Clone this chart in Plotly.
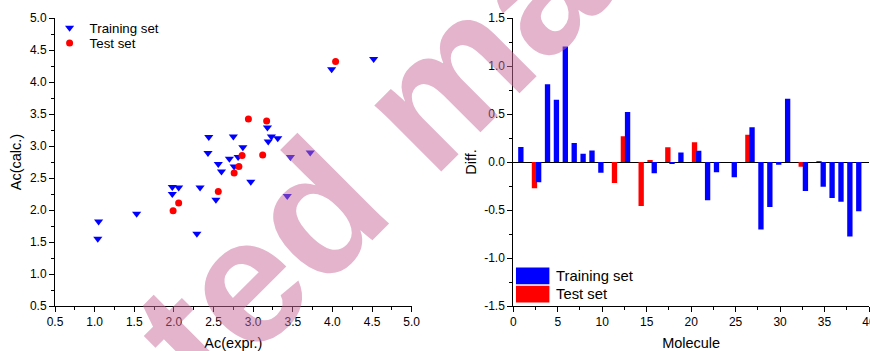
import plotly.graph_objects as go

# ---------------- Left panel: Ac(calc.) vs Ac(expr.) ----------------
train_expr = [1.04, 1.05, 1.53, 1.98, 1.98, 2.06, 2.29, 2.33, 2.43, 2.44, 2.53, 2.56, 2.60, 2.70,
              2.75, 2.76, 2.81, 2.87, 2.97, 3.18, 3.19, 3.23, 3.31, 3.43, 3.47, 3.72, 3.99, 4.52]
train_calc = [1.55, 1.82, 1.94, 2.36, 2.25, 2.35, 1.63, 2.35, 2.89, 3.14, 2.16, 2.72, 2.60, 2.80,
              3.15, 2.68, 2.83, 2.98, 2.44, 3.29, 3.07, 3.15, 3.12, 2.22, 2.83, 2.90, 4.20, 4.36]
test_expr = [1.99, 2.06, 2.56, 2.76, 2.82, 2.86, 2.94, 3.12, 3.17, 4.04]
test_calc = [1.99, 2.11, 2.29, 2.58, 2.68, 2.85, 3.42, 2.86, 3.39, 4.32]

left_ticks = [0.5, 1.0, 1.5, 2.0, 2.5, 3.0, 3.5, 4.0, 4.5, 5.0]
left_ticktext = ["0.5", "1.0", "1.5", "2.0", "2.5", "3.0", "3.5", "4.0", "4.5", "5.0"]

# ---------------- Right panel: Diff. per molecule ----------------
molecule = list(range(1, 40))
train_diff = [0.156, None, -0.212, 0.811, 0.648, 1.203, 0.198, 0.087, 0.121, -0.111,
              None, None, 0.52, None, None, -0.118, None, -0.014, 0.10, None,
              0.118, -0.399, -0.108, None, -0.16, None, 0.361, -0.704, -0.468, -0.028,
              0.659, None, -0.302, None, -0.257, -0.374, -0.413, -0.777, -0.513]
test_diff = [None, None, -0.274, None, None, None, None, None, None, None,
             None, -0.218, 0.267, None, -0.458, 0.02, None, 0.153, None, None,
             0.205, None, None, None, None, None, 0.284, None, None, None,
             None, None, -0.049, None, 0.01, None, None, None, None]

diff_ticks = [-1.5, -1.0, -0.5, 0.0, 0.5, 1.0, 1.5]
diff_ticktext = ["-1.5", "-1.0", "-0.5", "0.0", "0.5", "1.0", "1.5"]
mol_ticks = [0, 5, 10, 15, 20, 25, 30, 35, 40]
mol_ticktext = ["0", "5", "10", "15", "20", "25", "30", "35", "40"]

FONT = "Liberation Sans, Arial, sans-serif"
BLUE = "#0000FF"
RED = "#FF0000"

fig = go.Figure()

fig.add_trace(go.Scatter(
    x=train_expr, y=train_calc, mode="markers", name="Training set", legend="legend",
    marker=dict(symbol="triangle-down", size=8, color=BLUE, line=dict(width=0)),
    xaxis="x", yaxis="y"))
fig.add_trace(go.Scatter(
    x=test_expr, y=test_calc, mode="markers", name="Test set", legend="legend2",
    marker=dict(symbol="circle", size=7, color=RED, line=dict(width=0)),
    xaxis="x", yaxis="y"))

fig.add_trace(go.Bar(
    x=molecule, y=test_diff, name="Test set", showlegend=False,
    marker=dict(color=RED, line=dict(width=0)), offset=-0.92, width=0.6,
    xaxis="x2", yaxis="y2"))
fig.add_trace(go.Bar(
    x=molecule, y=train_diff, name="Training set", showlegend=False,
    marker=dict(color=BLUE, line=dict(width=0)), offset=-0.45, width=0.6,
    xaxis="x2", yaxis="y2"))

axis_common = dict(
    showline=True, linecolor="black", linewidth=1, mirror=False,
    ticks="outside", ticklen=5, tickwidth=1, tickcolor="black",
    showgrid=False, zeroline=False,
    tickfont=dict(family=FONT, size=12, color="black"),
    ticklabeloverflow="allow",
    automargin=False,
)
legend_common = dict(xanchor="left", yanchor="top", bgcolor="rgba(0,0,0,0)", borderwidth=0,
                     font=dict(family=FONT, size=13.3, color="black"))
TITLE_FONT = dict(family=FONT, size=14.5, color="black")

fig.update_layout(
    template="none",
    width=870, height=351,
    paper_bgcolor="white", plot_bgcolor="white",
    margin=dict(l=0, r=0, t=18, b=45),
    font=dict(family=FONT, size=12, color="black"),
    barmode="overlay",
    showlegend=True,
    legend=dict(legend_common, x=0.057, y=1.0184),
    legend2=dict(legend_common, x=0.057, y=0.966),
    xaxis=dict(axis_common, domain=[55 / 870, 411.7 / 870], range=[0.5, 5.0],
               tickmode="array", tickvals=left_ticks, ticktext=left_ticktext,
               minor=dict(ticks="outside", ticklen=3, dtick=0.25, tick0=0.5, tickcolor="black"),
               title=dict(text="Ac(expr.)", font=TITLE_FONT, standoff=14),
               anchor="y"),
    yaxis=dict(axis_common, domain=[0, 1], range=[0.5, 5.0],
               tickmode="array", tickvals=left_ticks, ticktext=left_ticktext,
               minor=dict(ticks="outside", ticklen=3, dtick=0.25, tick0=0.5, tickcolor="black"),
               title=dict(text="Ac(calc.)", font=TITLE_FONT, standoff=4),
               anchor="x"),
    xaxis2=dict(axis_common, domain=[513.3 / 870, 869 / 870], range=[0, 40],
                tickmode="array", tickvals=mol_ticks, ticktext=mol_ticktext,
                minor=dict(ticks="outside", ticklen=3, dtick=2.5, tick0=0, tickcolor="black"),
                title=dict(text="Molecule", font=TITLE_FONT, standoff=14),
                anchor="y2"),
    yaxis2=dict(axis_common, domain=[0, 1], range=[-1.5, 1.5],
                tickmode="array", tickvals=diff_ticks, ticktext=diff_ticktext,
                minor=dict(ticks="outside", ticklen=3, dtick=0.25, tick0=0, tickcolor="black"),
                title=dict(text="Diff.", font=TITLE_FONT, standoff=4),
                zeroline=True, zerolinecolor="black", zerolinewidth=1,
                anchor="x2"),
)

# Legend for the bar panel (large colour patches)
fig.add_shape(type="rect", xref="x2", yref="y2", x0=0.3, x1=4.06, y0=-1.273, y1=-1.099,
              fillcolor=BLUE, line=dict(width=0))
fig.add_shape(type="rect", xref="x2", yref="y2", x0=0.3, x1=4.06, y0=-1.463, y1=-1.29,
              fillcolor=RED, line=dict(width=0))
fig.add_annotation(xref="x2", yref="y2", x=4.62, y=-1.186, text="Training set",
                   showarrow=False, xanchor="left", yanchor="middle",
                   font=dict(family=FONT, size=14.8, color="black"))
fig.add_annotation(xref="x2", yref="y2", x=4.62, y=-1.376, text="Test set",
                   showarrow=False, xanchor="left", yanchor="middle",
                   font=dict(family=FONT, size=14.8, color="black"))

# Watermark
fig.add_annotation(xref="paper", yref="paper", x=427 / 870, y=(306 - 98) / 288,
                   text="Accepted manuscript", showarrow=False, textangle=-45,
                   xanchor="center", yanchor="middle",
                   font=dict(family="Liberation Sans", size=178, color="rgba(202,104,154,0.5)",
                             weight="bold"))

fig.write_html("out.html", config={"displayModeBar": False},
               post_script="document.body.style.margin='0px';document.body.style.overflow='hidden';")
